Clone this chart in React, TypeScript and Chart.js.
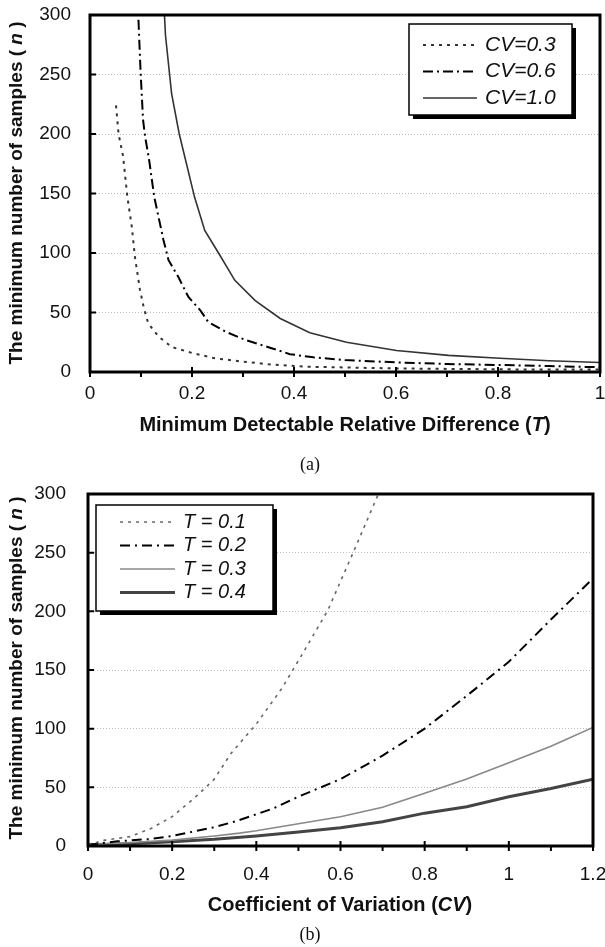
import React, { useEffect, useRef } from 'react';
import { Chart, registerables } from 'chart.js';

Chart.register(...registerables);

// ---------- Chart (a): n vs minimum detectable relative difference T ----------
const cv03T = [0.051, 0.056, 0.065, 0.073, 0.082, 0.088, 0.098, 0.105, 0.114, 0.134, 0.16, 0.2, 0.245, 0.3, 0.35, 0.42, 0.5, 0.6, 0.7, 0.8, 0.9, 1.0];
const cv03N = [224, 200, 181, 148, 122, 97, 69, 55, 41, 30, 21, 16, 11.5, 8.7, 6.5, 4.5, 3.8, 3, 2.6, 2.3, 2, 2];

const cv06T = [0.095, 0.099, 0.104, 0.108, 0.116, 0.126, 0.144, 0.154, 0.173, 0.193, 0.216, 0.232, 0.265, 0.304, 0.356, 0.392, 0.438, 0.5, 0.6, 0.7, 0.8, 0.9, 1.0];
const cv06N = [296, 254, 212, 198, 178, 147, 111, 94, 80, 63, 52, 42, 34, 27, 20, 15, 12.3, 10, 8.1, 6.7, 5.9, 5, 4];

const cv10T = [0.146, 0.148, 0.16, 0.175, 0.205, 0.225, 0.252, 0.284, 0.324, 0.373, 0.431, 0.503, 0.601, 0.703, 0.804, 0.9, 1.0];
const cv10N = [300, 283, 234, 200, 147, 119, 100, 77, 60, 45, 33, 25, 18, 14, 11.5, 9.5, 8];

const seriesLabelsA = ['CV=0.3', 'CV=0.6', 'CV=1.0'];

// ---------- Chart (b): n vs coefficient of variation CV ----------
const t01CV = [0, 0.04, 0.1, 0.15, 0.2, 0.25, 0.28, 0.3, 0.34, 0.4, 0.46, 0.51, 0.57, 0.63, 0.69];
const t01N = [1, 5, 8, 15, 25, 40, 50, 57, 79, 104, 134, 164, 201, 250, 300];

const t02CV = [0, 0.07, 0.15, 0.2, 0.3, 0.35, 0.4, 0.44, 0.5, 0.6, 0.7, 0.8, 0.9, 1.0, 1.1, 1.2];
const t02N = [1, 4, 6, 8.5, 16, 21, 27, 32, 42, 57, 77, 100, 128, 157, 193, 228];

const t03CV = [0, 0.1, 0.2, 0.3, 0.36, 0.4, 0.5, 0.6, 0.7, 0.8, 0.9, 1.0, 1.1, 1.2];
const t03N = [1, 3, 5, 8.5, 11, 13, 19, 25, 33, 45, 57, 71, 85, 101];

const t04CV = [0, 0.1, 0.2, 0.3, 0.4, 0.5, 0.6, 0.7, 0.8, 0.9, 1.0, 1.1, 1.2];
const t04N = [1, 2, 3.7, 5.7, 8.5, 12, 15.6, 20.7, 28, 33.5, 42, 49, 57];

const seriesLabelsB = ['T = 0.1', 'T = 0.2', 'T = 0.3', 'T = 0.4'];

// ---------- axis ticks ----------
const yTickMin = 0;
const yTickMax = 300;
const yTickStep = 50;
const xTickStep = 0.1;
const xMaxA = 1;
const xMaxB = 1.2;

const SANS = '"Liberation Sans", Arial, sans-serif';
const SERIF = '"Liberation Serif", "Times New Roman", serif';

type Part = { t: string; i?: boolean };

const yTitleParts: Part[] = [{ t: 'The minimum number of samples ( ' }, { t: 'n', i: true }, { t: ' )' }];
const xTitleA: Part[] = [{ t: 'Minimum Detectable Relative Difference (' }, { t: 'T', i: true }, { t: ')' }];
const xTitleB: Part[] = [{ t: 'Coefficient of Variation (' }, { t: 'CV', i: true }, { t: ')' }];

function zip(xs: number[], ys: number[]) {
  return xs.map((x, k) => ({ x, y: ys[k] }));
}

function drawParts(ctx: CanvasRenderingContext2D, parts: Part[], cx: number, cy: number, size: number) {
  const fontOf = (p: Part) => `${p.i ? 'italic ' : ''}bold ${size}px ${SANS}`;
  let total = 0;
  parts.forEach((p) => {
    ctx.font = fontOf(p);
    total += ctx.measureText(p.t).width;
  });
  let x = cx - total / 2;
  ctx.textBaseline = 'middle';
  ctx.textAlign = 'left';
  ctx.fillStyle = '#111';
  parts.forEach((p) => {
    ctx.font = fontOf(p);
    ctx.fillText(p.t, x, cy);
    x += ctx.measureText(p.t).width;
  });
}

type Decor = {
  yTitle: { x: number; y: number; size: number };
  xTitle: { parts: Part[]; x: number; y: number; size: number };
  caption: { text: string; x: number; y: number };
  legend: { left: number; top: number; w: number; h: number; row0: number; gap: number; l0: number; l1: number; tx: number; size: number };
};

function makeDecor(d: Decor) {
  return {
    id: 'decor',
    afterDatasetsDraw(chart: any) {
      const ctx: CanvasRenderingContext2D = chart.ctx;
      const a = chart.chartArea;
      const xs = chart.scales.x;
      const ys = chart.scales.y;
      ctx.save();
      // frame
      ctx.setLineDash([]);
      ctx.strokeStyle = '#000';
      ctx.lineWidth = 3;
      ctx.strokeRect(a.left, a.top, a.right - a.left, a.bottom - a.top);
      // tick marks
      ctx.lineWidth = 2;
      ctx.beginPath();
      xs.ticks.forEach((t: any) => {
        const px = xs.getPixelForValue(t.value);
        const major = Math.round(t.value * 10) % 2 === 0;
        ctx.moveTo(px, a.bottom + (major ? -5 : 0));
        ctx.lineTo(px, a.bottom + 5);
      });
      ys.ticks.forEach((t: any) => {
        const py = ys.getPixelForValue(t.value);
        ctx.moveTo(a.left, py);
        ctx.lineTo(a.left + 6, py);
      });
      ctx.stroke();

      // legend
      const L = d.legend;
      ctx.fillStyle = '#000';
      ctx.fillRect(L.left + 4, L.top + 4, L.w, L.h);
      ctx.fillStyle = '#fff';
      ctx.fillRect(L.left, L.top, L.w, L.h);
      ctx.strokeStyle = '#000';
      ctx.lineWidth = 1.5;
      ctx.strokeRect(L.left, L.top, L.w, L.h);
      chart.data.datasets.forEach((ds: any, i: number) => {
        const y = L.top + L.row0 + i * L.gap;
        ctx.beginPath();
        ctx.setLineDash(ds.borderDash || []);
        ctx.strokeStyle = ds.borderColor;
        ctx.lineWidth = ds.borderWidth;
        ctx.moveTo(L.l0, y);
        ctx.lineTo(L.l1, y);
        ctx.stroke();
        ctx.setLineDash([]);
        ctx.fillStyle = '#111';
        ctx.font = `italic ${L.size}px ${SANS}`;
        ctx.textAlign = 'left';
        ctx.textBaseline = 'middle';
        ctx.fillText(ds.label, L.tx, y);
      });

      // titles
      ctx.save();
      ctx.translate(d.yTitle.x, d.yTitle.y);
      ctx.rotate(-Math.PI / 2);
      drawParts(ctx, yTitleParts, 0, 0, d.yTitle.size);
      ctx.restore();
      drawParts(ctx, d.xTitle.parts, d.xTitle.x, d.xTitle.y, d.xTitle.size);

      // caption
      ctx.font = `18px ${SERIF}`;
      ctx.fillStyle = '#111';
      ctx.textAlign = 'center';
      ctx.textBaseline = 'middle';
      ctx.fillText(d.caption.text, d.caption.x, d.caption.y);
      ctx.restore();
    },
  };
}

function baseOptions(xMax: number, yWidth: number, yPad: number, xPad: number, xHeight: number, padding: any) {
  return {
    responsive: false,
    animation: false as const,
    devicePixelRatio: 1,
    layout: { padding },
    plugins: { legend: { display: false }, tooltip: { enabled: false } },
    elements: { point: { radius: 0 }, line: { tension: 0 } },
    scales: {
      x: {
        type: 'linear' as const,
        min: 0,
        max: xMax,
        afterFit: (s: any) => {
          s.height = xHeight;
          s.paddingLeft = 0;
          s.paddingRight = 0;
        },
        grid: { display: false, drawTicks: false },
        border: { display: false },
        ticks: {
          stepSize: xTickStep,
          autoSkip: false,
          maxRotation: 0,
          padding: xPad,
          color: '#111',
          font: { family: SANS, size: 19 },
          callback: (v: any) => {
            const r = Math.round(Number(v) * 10);
            return r % 2 === 0 ? String(r / 10) : '';
          },
        },
      },
      y: {
        type: 'linear' as const,
        min: yTickMin,
        max: yTickMax,
        afterFit: (s: any) => {
          s.width = yWidth;
          s.paddingTop = 0;
          s.paddingBottom = 0;
        },
        grid: {
          drawTicks: false,
          lineWidth: 1,
          color: (c: any) => (c.tick && (c.tick.value === yTickMin || c.tick.value === yTickMax) ? 'rgba(0,0,0,0)' : '#bcbcbc'),
        },
        border: { display: false, dash: [1, 2] },
        ticks: {
          stepSize: yTickStep,
          padding: yPad,
          color: '#111',
          font: { family: SANS, size: 19 },
        },
      },
    },
  };
}

function ChartA() {
  const ref = useRef<HTMLCanvasElement>(null);
  useEffect(() => {
    if (!ref.current) return;
    const chart = new Chart(ref.current, {
      type: 'line',
      data: {
        datasets: [
          { label: seriesLabelsA[0], data: zip(cv03T, cv03N), borderColor: '#333', borderWidth: 2, borderDash: [3, 5], fill: false },
          { label: seriesLabelsA[1], data: zip(cv06T, cv06N), borderColor: '#000', borderWidth: 2, borderDash: [10, 4, 2, 4], fill: false },
          { label: seriesLabelsA[2], data: zip(cv10T, cv10N), borderColor: '#333', borderWidth: 1.6, fill: false },
        ],
      },
      options: baseOptions(xMaxA, 90, 19, 10, 45, { left: 0, right: 5, top: 15, bottom: 61 }) as any,
      plugins: [
        makeDecor({
          yTitle: { x: 17, y: 193, size: 19 },
          xTitle: { parts: xTitleA, x: 345, y: 425, size: 20 },
          caption: { text: '(a)', x: 310, y: 465 },
          legend: { left: 409, top: 24, w: 163, h: 91, row0: 21, gap: 26.5, l0: 423, l1: 477, tx: 485, size: 21 },
        }),
      ],
    });
    return () => chart.destroy();
  }, []);
  return <canvas ref={ref} width={605} height={478} style={{ position: 'absolute', left: 0, top: 0, display: 'block' }} />;
}

function ChartB() {
  const ref = useRef<HTMLCanvasElement>(null);
  useEffect(() => {
    if (!ref.current) return;
    const chart = new Chart(ref.current, {
      type: 'line',
      data: {
        datasets: [
          { label: seriesLabelsB[0], data: zip(t01CV, t01N), borderColor: '#666', borderWidth: 1.6, borderDash: [3, 5], fill: false },
          { label: seriesLabelsB[1], data: zip(t02CV, t02N), borderColor: '#000', borderWidth: 2, borderDash: [10, 5, 2, 5], fill: false },
          { label: seriesLabelsB[2], data: zip(t03CV, t03N), borderColor: '#888', borderWidth: 1.6, fill: false },
          { label: seriesLabelsB[3], data: zip(t04CV, t04N), borderColor: '#444', borderWidth: 3, fill: false },
        ],
      },
      options: baseOptions(xMaxB, 88, 22, 17, 50, { left: 0, right: 12, top: 16, bottom: 51 }) as any,
      plugins: [
        makeDecor({
          yTitle: { x: 17, y: 190, size: 19 },
          xTitle: { parts: xTitleB, x: 340, y: 427, size: 20 },
          caption: { text: '(b)', x: 310, y: 457 },
          legend: { left: 96, top: 27, w: 177, h: 106, row0: 17, gap: 23.5, l0: 120, l1: 175, tx: 183, size: 20 },
        }),
      ],
    });
    return () => chart.destroy();
  }, []);
  return <canvas ref={ref} width={605} height={469} style={{ position: 'absolute', left: 0, top: 478, display: 'block' }} />;
}

export default function App() {
  return (
    <div style={{ position: 'absolute', left: 0, top: 0, width: 605, height: 947, background: '#fff' }}>
      <ChartA />
      <ChartB />
    </div>
  );
}
